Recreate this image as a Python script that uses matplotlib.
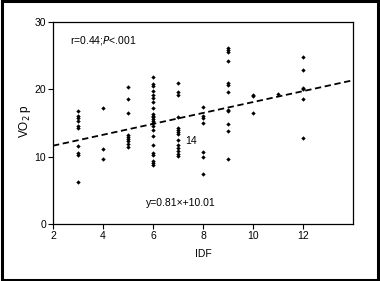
import numpy as np
import matplotlib
matplotlib.use("Agg")
import matplotlib.pyplot as plt
from matplotlib.patches import Rectangle

plt.rcParams['font.family'] = ['Liberation Sans Narrow', 'Liberation Sans', 'DejaVu Sans']
plt.rcParams['mathtext.fontset'] = 'custom'
plt.rcParams['mathtext.rm'] = 'Liberation Sans Narrow'
plt.rcParams['mathtext.it'] = 'Liberation Sans Narrow:italic'

# IDF score per group, VO2 peak readings for each
idf_3 = [16.8, 16.0, 15.7, 15.3, 14.5, 14.2, 11.6, 10.5, 10.2, 6.3]
idf_4 = [17.3, 11.1, 9.6]
idf_5 = [20.4, 18.5, 16.5, 13.2, 12.9, 12.6, 12.3, 11.9, 11.5]
idf_6 = [21.8, 20.8, 20.5, 19.8, 19.1, 18.7, 18.1, 17.2, 16.3, 16.1, 15.9,
         15.6, 15.3, 15.0, 14.6, 13.9, 13.0, 11.7, 10.6, 10.3, 9.4, 9.1, 8.7]
idf_7 = [21.0, 19.6, 19.2, 15.9, 14.2, 14.0, 13.7, 13.4, 12.5, 11.7, 11.3,
         10.8, 10.4, 10.1]
idf_8 = [17.4, 16.1, 15.8, 15.0, 10.7, 10.0, 7.5]
idf_9 = [26.2, 25.9, 25.5, 24.2, 21.0, 20.7, 19.6, 17.0, 16.8, 14.8, 13.8, 9.7]
idf_10 = [19.2, 19.0, 16.5]
idf_11 = [19.3]
idf_12 = [24.8, 22.8, 20.2, 20.0, 18.5, 12.7]

groups = {3: idf_3, 4: idf_4, 5: idf_5, 6: idf_6, 7: idf_7, 8: idf_8,
          9: idf_9, 10: idf_10, 11: idf_11, 12: idf_12}

SLOPE = 0.81
INTERCEPT = 10.01
fit_x = [2, 14]

x_ticks = [2, 4, 6, 8, 10, 12]
y_ticks = [0, 10, 20, 30]

fig = plt.figure(figsize=(3.8, 2.81), dpi=100)
ax = fig.add_axes([0.1395, 0.2028, 0.7895, 0.7189])

for idf, vals in groups.items():
    ax.scatter([idf] * len(vals), vals, marker='D', s=5, color='black',
               linewidths=0, zorder=3)

fit_y = [SLOPE * v + INTERCEPT for v in fit_x]
ax.plot(fit_x, fit_y, color='black', linewidth=1.3, linestyle=(0, (3.5, 2)),
        zorder=2)

ax.set_xlim(2, 14)
ax.set_ylim(0, 30)
ax.set_xticks(x_ticks)
ax.set_yticks(y_ticks)
ax.tick_params(direction='out', length=3.5, width=0.8, labelsize=7.5,
               pad=1.5)
for s in ax.spines.values():
    s.set_linewidth(0.9)

ax.set_xlabel("IDF", fontsize=7.5, labelpad=5.5)
ax.set_ylabel("VO$_2$ p", fontsize=8.5, labelpad=1.5)
ax.yaxis.set_label_coords(-0.066, 0.51)

ax.text(2.68, 27.2, "r=0.44;$\\it{P}$<.001", fontsize=7.5, va='center', ha='left')
ax.text(5.72, 3.1, "y=0.81\u00d7+10.01", fontsize=7.5, va='center', ha='left')
ax.text(7.3, 12.3, "14", fontsize=7.5, va='center', ha='left')

fig.patches.append(Rectangle((0.004, 0.005), 0.991, 0.99, transform=fig.transFigure,
                             fill=False, edgecolor='black', linewidth=2.2))

fig.savefig("out.png", dpi=100)
